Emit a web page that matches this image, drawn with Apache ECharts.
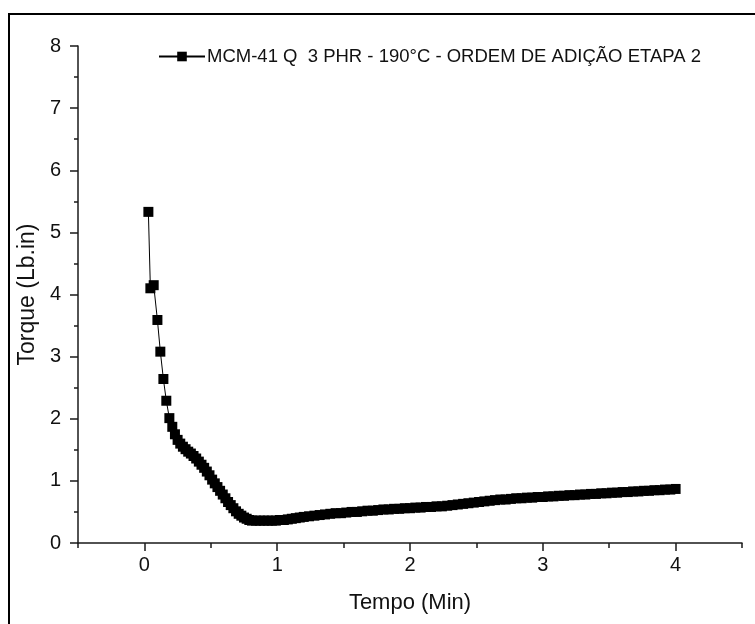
<!DOCTYPE html>
<html>
<head>
<meta charset="utf-8">
<script src="https://cdn.jsdelivr.net/npm/echarts@6/dist/echarts.min.js"></script>
<style>html,body{margin:0;padding:0;background:#fff;}#c{width:755px;height:624px;}</style>
</head>
<body>
<div id="c"></div>
<script>
const seriesName = 'MCM-41 Q  3 PHR - 190°C - ORDEM DE ADIÇÃO ETAPA 2';
const xLabelValues = [0, 1, 2, 3, 4];
const xHalfTicks = [-0.5, 0.5, 1.5, 2.5, 3.5, 4.5];
const timeMin = [
  0.03, 0.045, 0.07, 0.098, 0.12, 0.143, 0.165, 0.188, 0.21,
  0.23, 0.25, 0.27, 0.29, 0.31, 0.33, 0.35, 0.37, 0.39, 0.41,
  0.43, 0.45, 0.47, 0.49, 0.51, 0.53, 0.55, 0.57, 0.59, 0.61,
  0.63, 0.65, 0.67, 0.69, 0.71, 0.73, 0.75, 0.77, 0.79, 0.81,
  0.84, 0.87, 0.90, 0.93, 0.96, 0.99, 1.02, 1.05, 1.08, 1.11,
  1.14, 1.17, 1.20, 1.24, 1.28, 1.32, 1.36, 1.40, 1.44, 1.48,
  1.52, 1.56, 1.60, 1.64, 1.68, 1.72, 1.76, 1.80, 1.84, 1.88,
  1.92, 1.96, 2.00, 2.04, 2.08, 2.12, 2.16, 2.20, 2.24, 2.28,
  2.32, 2.36, 2.40, 2.44, 2.48, 2.52, 2.56, 2.60, 2.64, 2.68,
  2.72, 2.76, 2.80, 2.84, 2.88, 2.92, 2.96, 3.00, 3.04, 3.08,
  3.12, 3.16, 3.20, 3.24, 3.28, 3.32, 3.36, 3.40, 3.44, 3.48,
  3.52, 3.56, 3.60, 3.64, 3.68, 3.72, 3.76, 3.80, 3.84, 3.88,
  3.92, 3.96, 4.00
];
const torque = [
  5.33, 4.10, 4.15, 3.59, 3.08, 2.64, 2.29, 2.01, 1.87,
  1.75, 1.66, 1.60, 1.55, 1.51, 1.47, 1.44, 1.40, 1.36, 1.31,
  1.26, 1.21, 1.15, 1.09, 1.02, 0.96, 0.90, 0.84, 0.78, 0.72,
  0.66, 0.61, 0.56, 0.51, 0.47, 0.44, 0.41, 0.39, 0.37, 0.36,
  0.36, 0.36, 0.36, 0.36, 0.36, 0.36, 0.37, 0.37, 0.38, 0.39,
  0.40, 0.41, 0.42, 0.43, 0.44, 0.45, 0.46, 0.47, 0.48, 0.48,
  0.49, 0.50, 0.50, 0.51, 0.52, 0.52, 0.53, 0.54, 0.54, 0.55,
  0.55, 0.56, 0.56, 0.57, 0.57, 0.58, 0.58, 0.59, 0.59, 0.60,
  0.61, 0.62, 0.63, 0.64, 0.65, 0.66, 0.67, 0.68, 0.69, 0.70,
  0.70, 0.71, 0.72, 0.72, 0.73, 0.73, 0.74, 0.74, 0.75, 0.75,
  0.76, 0.76, 0.77, 0.77, 0.78, 0.78, 0.79, 0.79, 0.80, 0.80,
  0.81, 0.81, 0.82, 0.82, 0.83, 0.83, 0.84, 0.84, 0.85, 0.85,
  0.86, 0.86, 0.87
];

const FONT = "'Liberation Sans', Arial, sans-serif";
const axisColor = '#1a1a1a';
const chart = echarts.init(document.getElementById('c'), null, {renderer: 'canvas'});
const data = timeMin.map((t, i) => [t, torque[i]]);

chart.setOption({
  animation: false,
  backgroundColor: '#fff',
  textStyle: {fontFamily: FONT, color: '#000'},
  graphic: [{
    type: 'rect',
    shape: {x: 9, y: 14, width: 800, height: 700},
    style: {fill: 'none', stroke: '#000', lineWidth: 2},
    silent: true
  }],
  grid: {left: 78, right: 13, top: 46, bottom: 81, containLabel: false},
  legend: {
    show: true,
    left: 153,
    top: 42,
    itemWidth: 46,
    itemHeight: 12,
    itemGap: 4,
    lineStyle: {width: 2},
    textStyle: {fontFamily: FONT, fontSize: 18.5, color: '#111', padding: [0, 0, 0, -3]},
    data: [seriesName]
  },
  xAxis: [{
    type: 'value',
    min: -0.5,
    max: 4.5,
    position: 'bottom',
    name: 'Tempo (Min)',
    nameLocation: 'middle',
    nameGap: 49,
    nameTextStyle: {fontFamily: FONT, fontSize: 22, color: '#111'},
    axisLine: {show: true, onZero: false, lineStyle: {color: axisColor, width: 1.5}},
    axisTick: {show: true, customValues: xLabelValues, length: 8, lineStyle: {color: axisColor, width: 1.5}},
    axisLabel: {show: true, customValues: xLabelValues, fontFamily: FONT, fontSize: 20, color: '#111', margin: 12},
    splitLine: {show: false}
  }, {
    type: 'value',
    min: -0.5,
    max: 4.5,
    position: 'bottom',
    axisLine: {show: false, onZero: false},
    axisTick: {show: true, customValues: xHalfTicks, length: 5, lineStyle: {color: axisColor, width: 1.5}},
    axisLabel: {show: false},
    splitLine: {show: false}
  }],
  yAxis: {
    type: 'value',
    min: 0,
    max: 8,
    interval: 1,
    position: 'left',
    name: 'Torque (Lb.in)',
    nameLocation: 'middle',
    nameRotate: 90,
    nameGap: 35,
    nameTextStyle: {fontFamily: FONT, fontSize: 23, color: '#111'},
    axisLine: {show: true, onZero: false, lineStyle: {color: axisColor, width: 1.5}},
    axisTick: {show: true, length: 8, lineStyle: {color: axisColor, width: 1.5}},
    minorTick: {show: true, splitNumber: 2, length: 4, lineStyle: {color: axisColor, width: 1.5}},
    axisLabel: {fontFamily: FONT, fontSize: 20, color: '#111', margin: 17},
    splitLine: {show: false}
  },
  series: [{
    name: seriesName,
    type: 'line',
    xAxisIndex: 0,
    data: data,
    symbol: 'rect',
    symbolSize: 10,
    showAllSymbol: true,
    lineStyle: {color: '#000', width: 1},
    itemStyle: {color: '#000'}
  }]
});
</script>
</body>
</html>
